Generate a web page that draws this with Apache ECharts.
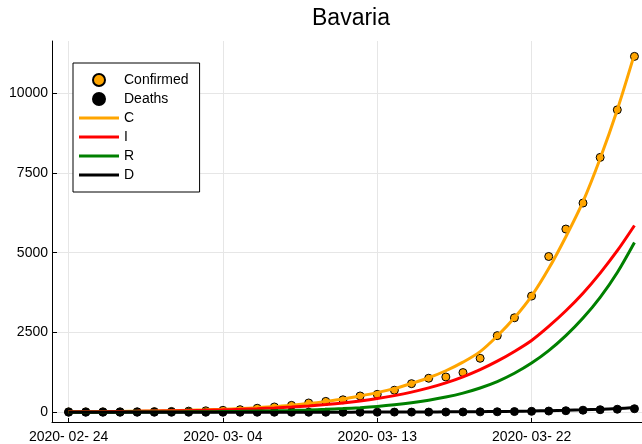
<!DOCTYPE html>
<html><head><meta charset="utf-8">
<script src="https://cdn.jsdelivr.net/npm/echarts@6/dist/echarts.min.js"></script>
<style>html,body{margin:0;padding:0;background:#fff}#c{width:642px;height:444px}</style>
</head><body><div id="c"></div>
<script>
const dates = ['2020-02-24','2020-02-25','2020-02-26','2020-02-27','2020-02-28','2020-02-29','2020-03-01','2020-03-02','2020-03-03','2020-03-04','2020-03-05','2020-03-06','2020-03-07','2020-03-08','2020-03-09','2020-03-10','2020-03-11','2020-03-12','2020-03-13','2020-03-14','2020-03-15','2020-03-16','2020-03-17','2020-03-18','2020-03-19','2020-03-20','2020-03-21','2020-03-22','2020-03-23','2020-03-24','2020-03-25','2020-03-26','2020-03-27','2020-03-28'];
const confirmed = [14,14,14,14,15,20,25,35,45,60,80,125,165,215,290,340,390,510,560,690,895,1065,1105,1243,1690,2400,2960,3640,4880,5740,6555,7985,9475,11150];
const deaths = [0,0,0,0,0,0,0,0,0,0,0,0,0,0,0,0,0,1,2,4,4,5,6,8,12,15,21,28,37,47,64,79,94,110];
const modelC = [13,16,20,25,31,39,48,60,74,92,114,142,176,222,275,340,415,510,615,740,900,1080,1300,1570,1900,2390,2960,3640,4500,5500,6600,7950,9480,11220];
const modelI = [12,15,19,23,28,34,41,50,61,74,90,110,134,163,198,240,290,352,427,520,630,762,920,1110,1335,1600,1905,2250,2690,3180,3730,4360,5060,5850];
const modelR = [0,1,2,3,5,7,9,12,16,21,27,35,44,56,71,90,114,144,182,232,295,375,475,600,760,960,1220,1540,1930,2400,2950,3600,4380,5320];
const modelD = [0,0,0,0,0,0,0,0,0,1,1,1,1,2,2,3,3,4,5,6,8,10,12,15,19,24,30,38,48,60,75,93,116,145];
const xTickDays = [0, 9, 18, 27];
const xTickLabels = ['2020- 02- 24','2020- 03- 04','2020- 03- 13','2020- 03- 22'];
const yTicks = [0, 2500, 5000, 7500, 10000];

const pair = arr => arr.map((v, i) => [i, v]);
const FONT = "'Liberation Sans', Arial, sans-serif";
const chart = echarts.init(document.getElementById('c'), null, {renderer: 'canvas'});
const lineSeries = (name, data, color) => ({
  name, type: 'line', data: pair(data), smooth: 0.3, showSymbol: false, symbol: 'none',
  lineStyle: {color, width: 3}, itemStyle: {color}, z: 3, animation: false
});
const lineLegend = name => ({name, icon: 'path://M0 0H40V3H0Z'});
chart.setOption({
  animation: false,
  backgroundColor: '#fff',
  title: {text: 'Bavaria', left: 312, top: 7, padding: 0,
    textStyle: {fontFamily: FONT, fontSize: 23, fontWeight: 'normal', color: '#000'}},
  grid: {left: 52, right: 0, top: 41, bottom: 20.5, containLabel: false},
  xAxis: {
    type: 'value', min: -0.968, max: 33.44,
    axisLine: {show: true, onZero: false, lineStyle: {color: '#000', width: 1}},
    axisTick: {show: true, inside: true, length: 4, lineStyle: {color: '#000'}, customValues: xTickDays},
    axisLabel: {customValues: xTickDays, margin: 8, color: '#000', fontFamily: FONT, fontSize: 14,
      formatter: v => xTickLabels[xTickDays.indexOf(Math.round(v))] || ''},
    splitLine: {show: true, lineStyle: {color: '#e6e6e6', width: 1}}
  },
  yAxis: {
    type: 'value', min: -306, max: 11632,
    axisLine: {show: true, onZero: false, lineStyle: {color: '#000', width: 1}},
    axisTick: {show: true, inside: true, length: 5, lineStyle: {color: '#000'}, customValues: yTicks},
    axisLabel: {customValues: yTicks, margin: 4, color: '#000', fontFamily: FONT, fontSize: 14,
      formatter: v => String(Math.round(v))},
    splitLine: {show: true, lineStyle: {color: '#e6e6e6', width: 1}}
  },
  legend: {
    orient: 'vertical', left: 73, top: 63,
    data: ['Confirmed', 'Deaths', lineLegend('C'), lineLegend('I'), lineLegend('R'), lineLegend('D')],
    backgroundColor: '#fff', borderColor: '#000', borderWidth: 1, borderRadius: 0,
    padding: [10, 11, 10, 6], itemWidth: 40, itemHeight: 12, itemGap: 5,
    textStyle: {fontFamily: FONT, fontSize: 14, color: '#000'}
  },
  series: [
    {name: 'Confirmed', type: 'scatter', data: pair(confirmed), symbol: 'circle', symbolSize: 8,
      itemStyle: {color: '#FFA500', borderColor: '#000', borderWidth: 1, opacity: 1}, z: 2},
    {name: 'Deaths', type: 'scatter', data: pair(deaths), symbol: 'circle', symbolSize: 8,
      itemStyle: {color: '#000', borderColor: '#000', borderWidth: 1, opacity: 1}, z: 2},
    lineSeries('C', modelC, '#FFA500'),
    lineSeries('I', modelI, '#FF0000'),
    lineSeries('R', modelR, '#008000'),
    lineSeries('D', modelD, '#000000')
  ]
});
</script>
</body></html>
